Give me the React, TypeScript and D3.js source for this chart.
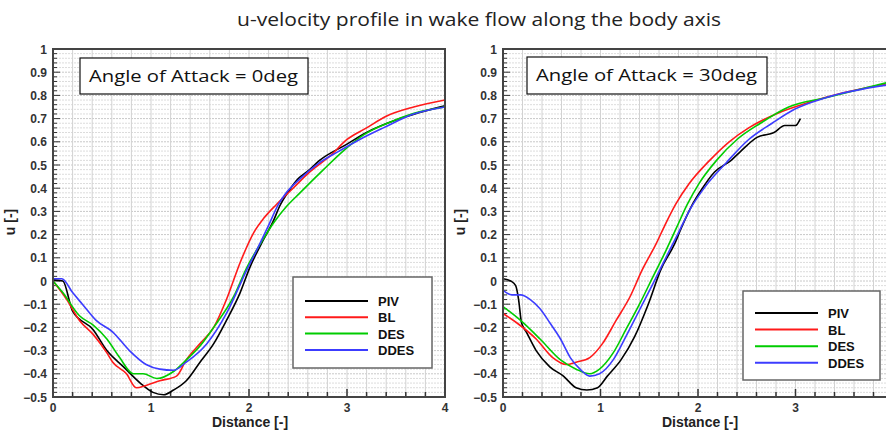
import React, { useEffect, useRef } from 'react';
import * as d3 from 'd3';

type Pt = [number, number];

const seriesNames = ['PIV', 'BL', 'DES', 'DDES'];
const seriesColors = ['#000000', '#ff1a1a', '#00cc00', '#3c3cff'];

// Angle of attack = 0deg
const piv0: Pt[] = [
  [0, 0.005], [0.1, 0.0], [0.2, -0.13], [0.41, -0.21], [0.55, -0.3], [0.72, -0.37], [0.89, -0.44],
  [1.02, -0.48], [1.13, -0.49], [1.23, -0.47], [1.36, -0.43], [1.5, -0.35], [1.64, -0.27],
  [1.77, -0.17], [1.91, -0.05], [2.01, 0.06], [2.15, 0.18], [2.25, 0.26], [2.31, 0.32],
  [2.41, 0.39], [2.5, 0.44], [2.59, 0.47], [2.72, 0.52], [3.0, 0.59], [3.2, 0.64], [3.54, 0.7], [4.0, 0.755],
];
const bl0: Pt[] = [
  [0, 0.0], [0.14, -0.08], [0.27, -0.17], [0.41, -0.23], [0.55, -0.31], [0.61, -0.35], [0.75, -0.4],
  [0.85, -0.46], [0.95, -0.45], [1.09, -0.43], [1.26, -0.41], [1.36, -0.34], [1.5, -0.27],
  [1.64, -0.2], [1.77, -0.08], [1.91, 0.08], [2.05, 0.21], [2.15, 0.27], [2.28, 0.33],
  [2.45, 0.4], [2.62, 0.47], [2.83, 0.54], [3.0, 0.61], [3.2, 0.66], [3.4, 0.71], [3.68, 0.75], [4.0, 0.78],
];
const des0: Pt[] = [
  [0, 0.0], [0.1, -0.05], [0.27, -0.15], [0.41, -0.19], [0.55, -0.25], [0.68, -0.33], [0.82, -0.4],
  [0.92, -0.4], [1.06, -0.42], [1.23, -0.39], [1.36, -0.34], [1.5, -0.28], [1.64, -0.2],
  [1.84, -0.07], [1.98, 0.06], [2.13, 0.17], [2.25, 0.25], [2.38, 0.32], [2.52, 0.38],
  [2.76, 0.48], [2.96, 0.56], [3.17, 0.63], [3.47, 0.69], [3.75, 0.73], [4.0, 0.75],
];
const ddes0: Pt[] = [
  [0, 0.01], [0.09, 0.01], [0.2, -0.05], [0.3, -0.1], [0.44, -0.17], [0.61, -0.22], [0.78, -0.3],
  [0.95, -0.36], [1.09, -0.38], [1.23, -0.385], [1.36, -0.35], [1.57, -0.27], [1.77, -0.14],
  [1.98, 0.05], [2.11, 0.16], [2.2, 0.24], [2.3, 0.33], [2.38, 0.38], [2.52, 0.44], [2.72, 0.51],
  [2.92, 0.56], [3.13, 0.61], [3.37, 0.66], [3.68, 0.72], [4.0, 0.75],
];

// Angle of attack = 30deg
const piv30: Pt[] = [
  [0, 0.01], [0.08, 0.0], [0.13, -0.02], [0.16, -0.08], [0.19, -0.18], [0.24, -0.22], [0.34, -0.3],
  [0.48, -0.37], [0.62, -0.41], [0.75, -0.46], [0.86, -0.47], [0.97, -0.46], [1.07, -0.41],
  [1.21, -0.34], [1.35, -0.24], [1.49, -0.1], [1.62, 0.05], [1.76, 0.16], [1.83, 0.23],
  [1.93, 0.32], [2.03, 0.39], [2.17, 0.47], [2.34, 0.52], [2.44, 0.56], [2.61, 0.62],
  [2.78, 0.64], [2.89, 0.67], [3.0, 0.67], [3.05, 0.7],
];
const bl30: Pt[] = [
  [0, -0.14], [0.14, -0.18], [0.34, -0.25], [0.51, -0.33], [0.65, -0.36], [0.75, -0.35], [0.89, -0.33],
  [1.02, -0.27], [1.16, -0.17], [1.3, -0.07], [1.43, 0.05], [1.57, 0.16], [1.66, 0.24],
  [1.77, 0.33], [1.91, 0.42], [2.12, 0.52], [2.32, 0.6], [2.52, 0.66], [2.8, 0.72],
  [3.14, 0.77], [3.48, 0.81], [3.94, 0.85],
];
const des30: Pt[] = [
  [0, -0.11], [0.18, -0.17], [0.38, -0.25], [0.59, -0.34], [0.75, -0.38], [0.89, -0.4], [0.99, -0.38],
  [1.13, -0.31], [1.26, -0.21], [1.4, -0.1], [1.54, 0.02], [1.67, 0.13], [1.78, 0.23],
  [1.89, 0.33], [2.01, 0.42], [2.19, 0.52], [2.4, 0.61], [2.64, 0.68], [2.93, 0.75],
  [3.31, 0.79], [3.94, 0.855],
];
const ddes30: Pt[] = [
  [0, -0.04], [0.09, -0.06], [0.18, -0.06], [0.28, -0.08], [0.38, -0.12], [0.48, -0.18], [0.59, -0.25],
  [0.69, -0.33], [0.79, -0.38], [0.89, -0.41], [0.99, -0.4], [1.13, -0.34], [1.26, -0.24],
  [1.4, -0.125], [1.54, -0.01], [1.67, 0.1], [1.79, 0.2], [1.92, 0.31], [2.08, 0.41],
  [2.29, 0.51], [2.52, 0.61], [2.76, 0.68], [2.99, 0.74], [3.31, 0.79], [3.94, 0.845],
];

const yTicks = d3.range(-5, 11).map(i => i / 10);
const xTicks = [0, 1, 2, 3, 4];

const FONT = 'Arial, "Liberation Sans", sans-serif';
const TEXT_FONT = '"Open Sans", Lato, sans-serif';

interface PanelCfg {
  left: number;
  right: number;
  label: string;
  labelBox: { x: number; y: number; w: number; h: number };
  legend: { x: number; y: number; w: number; h: number; rowY: number; rowGap: number };
  series: Pt[][];
}

const panels: PanelCfg[] = [
  {
    left: 53, right: 445, label: 'Angle  of Attack = 0deg',
    labelBox: { x: 80, y: 58, w: 228, h: 36 },
    legend: { x: 293, y: 277, w: 139, h: 91, rowY: 301, rowGap: 16.3 },
    series: [piv0, bl0, des0, ddes0],
  },
  {
    left: 503, right: 893, label: 'Angle  of Attack = 30deg',
    labelBox: { x: 527, y: 57, w: 240, h: 37 },
    legend: { x: 743, y: 291, w: 137, h: 89, rowY: 313, rowGap: 16.6 },
    series: [piv30, bl30, des30, ddes30],
  },
];

const TOP = 49;
const BOTTOM = 397;
const WIDTH = 886;

const App = () => {
  const svgRef = useRef<SVGSVGElement | null>(null);

  useEffect(() => {
    const svg = d3.select(svgRef.current);
    svg.selectAll('*').remove();

    // Title
    svg.append('text')
      .attr('x', 479)
      .attr('y', 26)
      .attr('text-anchor', 'middle')
      .attr('font-family', TEXT_FONT)
      .attr('font-size', 18)
      .attr('fill', '#222')
      .attr('textLength', 484)
      .attr('lengthAdjust', 'spacingAndGlyphs')
      .text('u-velocity profile in wake flow along the body axis');

    panels.forEach((p, pi) => {
      const xScale = d3.scaleLinear().domain([0, 4]).range([p.left, p.right]);
      const yScale = d3.scaleLinear().domain([-0.5, 1]).range([BOTTOM, TOP]);
      const g = svg.append('g');

      const clipId = `clip${pi}`;
      g.append('clipPath').attr('id', clipId)
        .append('rect')
        .attr('x', p.left).attr('y', TOP)
        .attr('width', p.right - p.left).attr('height', BOTTOM - TOP);

      g.append('rect')
        .attr('x', p.left).attr('y', TOP)
        .attr('width', p.right - p.left).attr('height', BOTTOM - TOP)
        .attr('fill', '#fff');

      // Horizontal grid every 0.02
      const hGrid = d3.range(-25, 51).map(i => i / 50);
      g.append('g').selectAll('line').data(hGrid).join('line')
        .attr('x1', p.left).attr('x2', p.right)
        .attr('y1', d => yScale(d)).attr('y2', d => yScale(d))
        .attr('stroke', (d, i) => (i % 5 === 0 ? '#c8c8c8' : '#dcdcdc'))
        .attr('stroke-width', 1)
        .attr('stroke-dasharray', '2,1');

      // Vertical grid every 0.2
      const vGrid = d3.range(1, 20).map(i => i / 5);
      g.append('g').selectAll('line').data(vGrid).join('line')
        .attr('x1', d => xScale(d)).attr('x2', d => xScale(d))
        .attr('y1', TOP).attr('y2', BOTTOM)
        .attr('stroke', '#d2d2d2')
        .attr('stroke-width', 1);

      // Ticks (inward)
      g.append('g').selectAll('line').data(hGrid).join('line')
        .attr('x1', p.left).attr('x2', (d, i) => p.left + (i % 5 === 0 ? 7 : 4))
        .attr('y1', d => yScale(d)).attr('y2', d => yScale(d))
        .attr('stroke', '#333').attr('stroke-width', 1);
      g.append('g').selectAll('line').data(d3.range(0, 21).map(i => i / 5)).join('line')
        .attr('x1', d => xScale(d)).attr('x2', d => xScale(d))
        .attr('y1', BOTTOM).attr('y2', (d, i) => BOTTOM - (i % 5 === 0 ? 8 : 5))
        .attr('stroke', '#333').attr('stroke-width', 1.5);

      // Curves
      const line = d3.line<Pt>()
        .x(d => xScale(d[0]))
        .y(d => yScale(d[1]))
        .curve(d3.curveMonotoneX);
      const curves = g.append('g').attr('clip-path', `url(#${clipId})`);
      p.series.forEach((s, si) => {
        curves.append('path')
          .datum(s)
          .attr('fill', 'none')
          .attr('stroke', seriesColors[si])
          .attr('stroke-width', 1.6)
          .attr('d', line);
      });

      // Frame
      g.append('rect')
        .attr('x', p.left).attr('y', TOP)
        .attr('width', p.right - p.left).attr('height', BOTTOM - TOP)
        .attr('fill', 'none')
        .attr('stroke', '#444')
        .attr('stroke-width', 2);

      // Y tick labels
      g.append('g').selectAll('text').data(yTicks).join('text')
        .attr('x', p.left - 6)
        .attr('y', d => yScale(d) + 4.5)
        .attr('text-anchor', 'end')
        .attr('font-family', FONT)
        .attr('font-weight', 'bold')
        .attr('font-size', 12)
        .attr('fill', '#333')
        .text(d => d3.format('')(Math.round(d * 10) / 10));

      // X tick labels (only those inside the picture)
      g.append('g').selectAll('text').data(xTicks.filter(d => xScale(d) < WIDTH - 6)).join('text')
        .attr('x', d => xScale(d))
        .attr('y', BOTTOM + 15)
        .attr('text-anchor', 'middle')
        .attr('font-family', FONT)
        .attr('font-weight', 'bold')
        .attr('font-size', 12)
        .attr('fill', '#333')
        .text(d => d);

      // Axis labels
      g.append('text')
        .attr('x', p.left + 197)
        .attr('y', BOTTOM + 30)
        .attr('text-anchor', 'middle')
        .attr('font-family', FONT)
        .attr('font-weight', 'bold')
        .attr('font-size', 14)
        .attr('fill', '#222')
        .text('Distance [-]');
      g.append('text')
        .attr('transform', `translate(${p.left - 38},222) rotate(-90)`)
        .attr('text-anchor', 'middle')
        .attr('font-family', FONT)
        .attr('font-weight', 'bold')
        .attr('font-size', 14)
        .attr('fill', '#222')
        .text('u [-]');

      // Angle of attack box
      g.append('rect')
        .attr('x', p.labelBox.x).attr('y', p.labelBox.y)
        .attr('width', p.labelBox.w).attr('height', p.labelBox.h)
        .attr('fill', '#fff')
        .attr('stroke', '#111')
        .attr('stroke-width', 1.2);
      g.append('text')
        .attr('x', p.labelBox.x + 9)
        .attr('y', p.labelBox.y + 24)
        .attr('font-family', TEXT_FONT)
        .attr('font-size', 17)
        .attr('fill', '#111')
        .attr('textLength', p.labelBox.w - 19)
        .attr('lengthAdjust', 'spacingAndGlyphs')
        .text(p.label);

      // Legend
      const lg = p.legend;
      g.append('rect')
        .attr('x', lg.x).attr('y', lg.y)
        .attr('width', lg.w).attr('height', lg.h)
        .attr('fill', '#fff')
        .attr('stroke', '#666')
        .attr('stroke-width', 1.5);
      seriesNames.forEach((name, si) => {
        const y = lg.rowY + si * lg.rowGap;
        g.append('line')
          .attr('x1', lg.x + 12).attr('x2', lg.x + 75)
          .attr('y1', y).attr('y2', y)
          .attr('stroke', seriesColors[si])
          .attr('stroke-width', 2);
        g.append('text')
          .attr('x', lg.x + 85)
          .attr('y', y + 5)
          .attr('font-family', FONT)
          .attr('font-weight', 'bold')
          .attr('font-size', 13)
          .attr('fill', '#111')
          .text(name);
      });
    });
  }, []);

  return (
    <svg
      ref={svgRef}
      width={WIDTH}
      height={435}
      style={{ position: 'absolute', left: 0, top: 0, background: '#fff' }}
    />
  );
};

export default App;
